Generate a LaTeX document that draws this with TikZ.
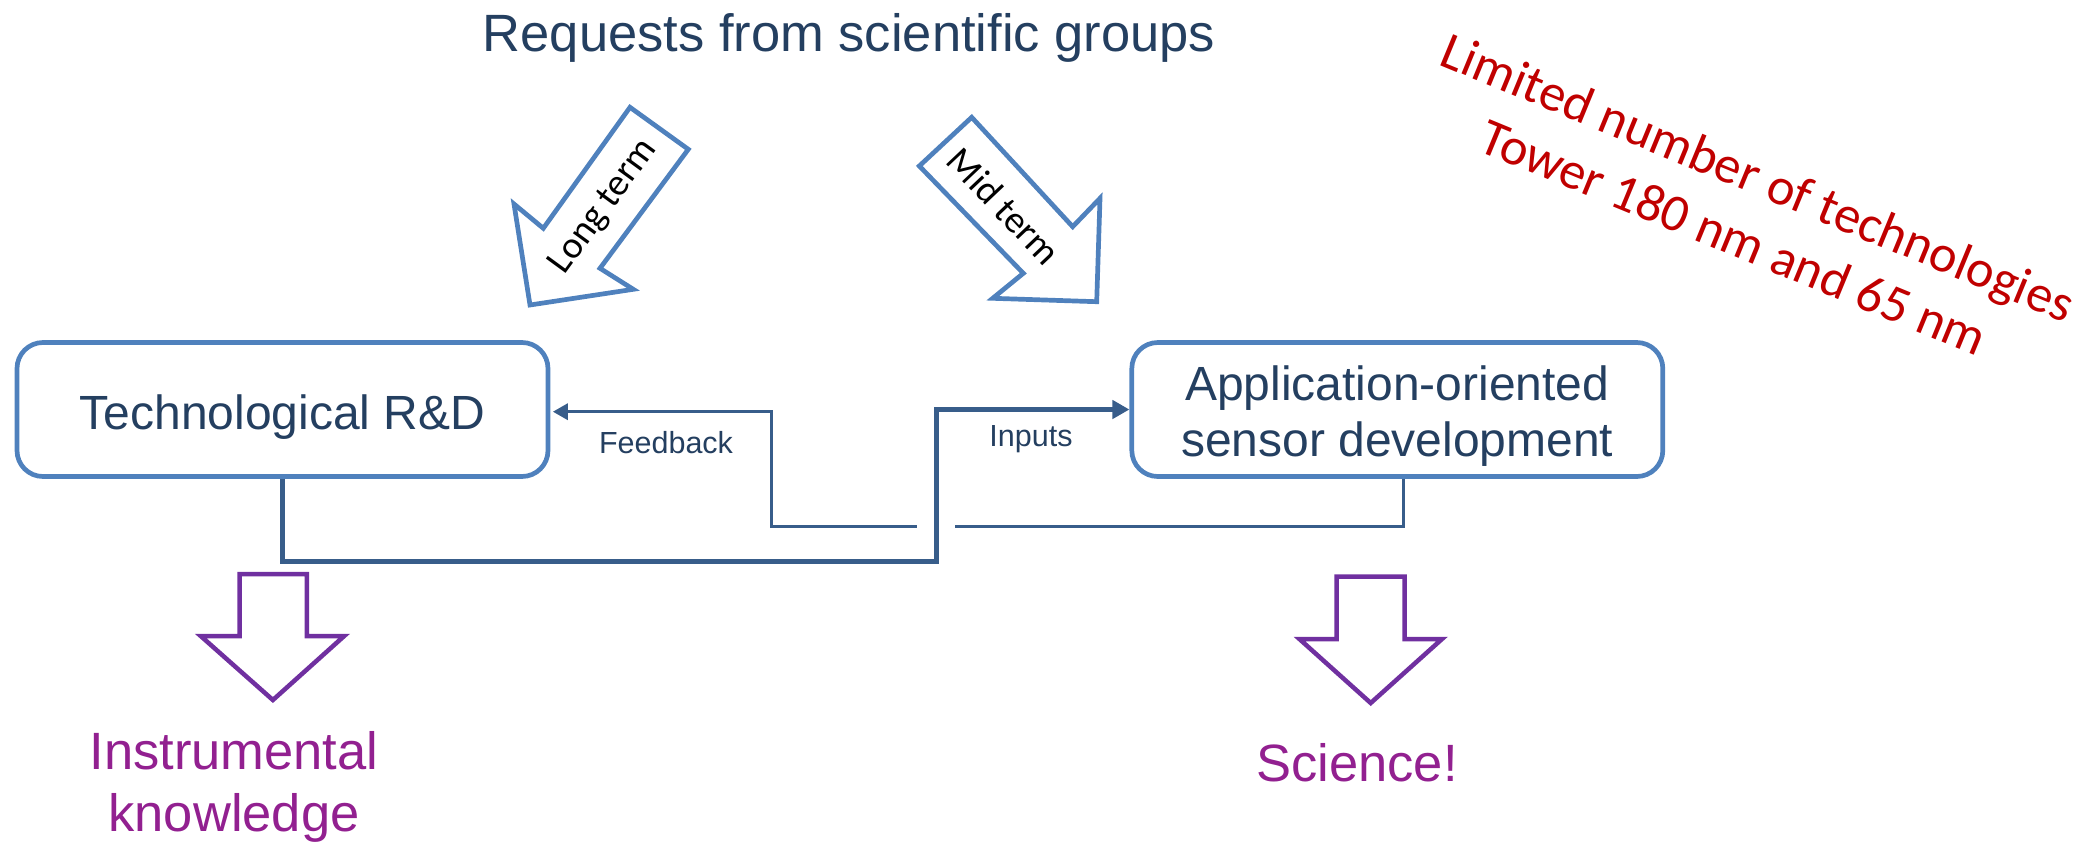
\documentclass[tikz,border=0pt]{standalone}
\usepackage{fontspec}
\setmainfont{Liberation Sans}
\newfontfamily\calibri{Carlito}
\usetikzlibrary{arrows.meta}

\definecolor{boxblue}{HTML}{4F81BD}
\definecolor{linkblue}{HTML}{385D8A}
\definecolor{navytext}{HTML}{243F60}
\definecolor{arrowpurple}{HTML}{7030A0}
\definecolor{textpurple}{HTML}{922090}
\definecolor{limitred}{HTML}{C00000}

\tikzset{
  box/.style={draw=boxblue, line width=4.7pt, rounded corners=26pt,
    minimum width=531pt, minimum height=134pt, text=navytext,
    font=\fontsize{48}{56.7}\selectfont, align=center},
  link/.style={draw=linkblue, line width=3.4pt},
  thicklink/.style={draw=linkblue, line width=5.3pt},
  linklabel/.style={anchor=base, text=navytext, font=\fontsize{30.5}{36}\selectfont},
  termarrow/.style={draw=boxblue, line width=4.7pt, fill=white},
  termlabel/.style={font=\calibri\fontsize{38}{44}\selectfont},
  outarrow/.style={draw=arrowpurple, line width=4.5pt},
  outcome/.style={anchor=base, text=textpurple, align=center,
    font=\fontsize{52.5}{62.4}\selectfont},
}

\begin{document}
\begin{tikzpicture}[x=1pt, y=-1pt]
\useasboundingbox (0,0) rectangle (2094,844);

\node[anchor=base, text=navytext, font=\fontsize{52.5}{63}\selectfont] (requests) at (849,51) {Requests from scientific groups};

% long and mid term arrows
\draw[termarrow] (630,107.3) -- (688.3,149.3) -- (600,268.3) -- (633.3,289.3) -- (530,305) -- (514,204) -- (543.3,228.3) -- cycle;
\node[termlabel, rotate=53.9] (longterm) at (604,207) {Long term};
\draw[termarrow] (971.7,117.3) -- (1072.7,226.7) -- (1100,198.3) -- (1096.7,301.7) -- (992.7,298.3) -- (1023.3,273.3) -- (919.3,166) -- cycle;
\node[termlabel, rotate=-46.6] (midterm) at (1004,206) {Mid term};

% the two activities
\node[box, text height=39pt, text depth=0pt] (tech) at (282.5,409.5) {Technological R\&D};
\node[box, text height=94.4pt, text depth=0pt] (sensor) at (1397.3,409.5) {Application-oriented\\sensor development};

% feedback and inputs
\coordinate (fbturn) at (771.7,411.7);
\coordinate (gapR) at (955,526.7);
\coordinate (gapL) at (916.7,526.7);
\coordinate (inturn) at (936.7,561.7);
\draw[link] ([xshift=6pt]sensor.south) |- (gapR);
\draw[link, -{Triangle[length=15pt,width=16pt]}, shorten >=2.5pt] (gapL) -| (fbturn) -- (fbturn -| tech.east);
\draw[thicklink, -{Triangle[length=17pt,width=18pt]}] (tech.south) |- (inturn) |- (sensor.west);
\node[linklabel] (feedback) at (666,453) {Feedback};
\node[linklabel] (inputs) at (1031,446.7) {Inputs};

% outcomes
\draw[outarrow] (239.7,574) -- (306.9,574) -- (306.9,636) -- (344.2,636) -- (272.9,700) -- (200.7,636) -- (239.7,636) -- cycle;
\node[outcome] (knowledge) at (234,831.7) {Instrumental\\knowledge};
\draw[outarrow] (1336.7,576.7) -- (1404.7,576.7) -- (1404.7,639) -- (1442,639) -- (1370.7,703) -- (1299.4,639) -- (1336.7,639) -- cycle;
\node[outcome] (science) at (1357,781.7) {Science!};

\node[anchor=base, rotate=-22.4, text=limitred, align=center,
  font=\calibri\fontsize{52.5}{64.7}\selectfont] (limits) at (1727,253.5) {Limited number of technologies\\Tower 180 nm and 65 nm};

\end{tikzpicture}
\end{document}
